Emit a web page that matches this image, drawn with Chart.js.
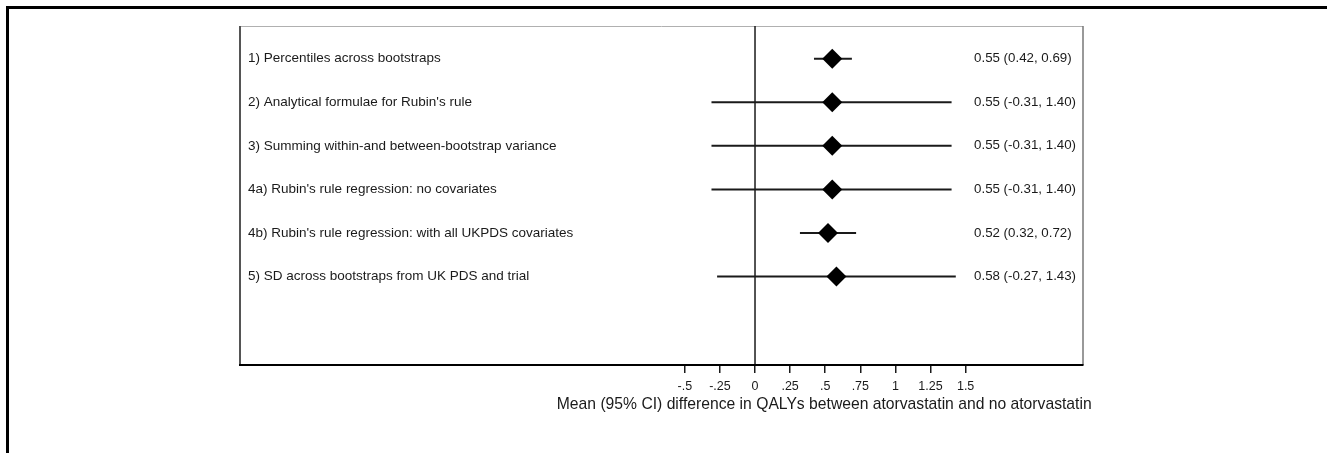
<!DOCTYPE html>
<html>
<head>
<meta charset="utf-8">
<script src="https://cdn.jsdelivr.net/npm/chart.js@4"></script>
<style>
  html, body { margin: 0; padding: 0; background: #fff; }
  canvas { display: block; }
</style>
</head>
<body>
<canvas id="chart" width="1327" height="453"></canvas>
<script>
// --- data ---
const methods = [
  "1) Percentiles across bootstraps",
  "2) Analytical formulae for Rubin's rule",
  "3) Summing within-and between-bootstrap variance",
  "4a) Rubin's rule regression: no covariates",
  "4b) Rubin's rule regression: with all UKPDS covariates",
  "5) SD across bootstraps from UK PDS and trial"
];
const estimates = [0.55, 0.55, 0.55, 0.55, 0.52, 0.58];
const lower = [0.42, -0.31, -0.31, -0.31, 0.32, -0.27];
const upper = [0.69, 1.40, 1.40, 1.40, 0.72, 1.43];
const ciText = [
  "0.55 (0.42, 0.69)",
  "0.55 (-0.31, 1.40)",
  "0.55 (-0.31, 1.40)",
  "0.55 (-0.31, 1.40)",
  "0.52 (0.32, 0.72)",
  "0.58 (-0.27, 1.43)"
];
const tickValues = [-0.5, -0.25, 0, 0.25, 0.5, 0.75, 1, 1.25, 1.5];
const tickLabels = ["-.5", "-.25", "0", ".25", ".5", ".75", "1", "1.25", "1.5"];
const axisTitle = "Mean (95% CI) difference in QALYs between atorvastatin and no atorvastatin";

const FONT = "'Liberation Sans', Arial, sans-serif";
const INK = "#1a1a1a";

// one short line per CI
const ciSets = methods.map((m, i) => ({
  type: "line",
  data: [{ x: lower[i], y: i + 1 }, { x: upper[i], y: i + 1 }],
  borderColor: INK,
  borderWidth: 2,
  pointRadius: 0,
  order: 1
}));

const diamonds = {
  type: "scatter",
  data: estimates.map((v, i) => ({ x: v, y: i + 1 })),
  pointStyle: "rectRot",
  pointRadius: 10,
  pointHoverRadius: 10,
  backgroundColor: "#000",
  borderColor: "#000",
  borderWidth: 0,
  order: 0
};

// frame, zero line, text labels
const forestDecor = {
  id: "forestDecor",
  beforeDraw(chart) {
    const { ctx, chartArea: a } = chart;
    ctx.save();
    // outer figure frame (top + left)
    ctx.fillStyle = "#000";
    ctx.fillRect(6, 6, 1327 - 6, 3);
    ctx.fillRect(6, 6, 3, 453 - 6);
    // plot box
    ctx.lineWidth = 1;
    ctx.strokeStyle = "#b0b0b0";
    ctx.beginPath(); ctx.moveTo(a.left, a.top + 0.5); ctx.lineTo(a.right, a.top + 0.5); ctx.stroke();
    ctx.strokeStyle = "#555";
    ctx.lineWidth = 2;
    ctx.beginPath(); ctx.moveTo(a.left, a.top); ctx.lineTo(a.left, a.bottom); ctx.stroke();
    ctx.strokeStyle = "#777";
    ctx.lineWidth = 1.5;
    ctx.beginPath(); ctx.moveTo(a.right, a.top); ctx.lineTo(a.right, a.bottom); ctx.stroke();
    // zero line
    const x0 = chart.scales.x.getPixelForValue(0);
    ctx.strokeStyle = INK;
    ctx.lineWidth = 1.5;
    ctx.beginPath(); ctx.moveTo(x0, a.top); ctx.lineTo(x0, a.bottom); ctx.stroke();
    ctx.restore();
  },
  afterDraw(chart) {
    const { ctx, chartArea: a, scales } = chart;
    ctx.save();
    ctx.fillStyle = INK;
    ctx.textBaseline = "middle";
    ctx.textAlign = "left";
    methods.forEach((m, i) => {
      const y = scales.y.getPixelForValue(i + 1);
      ctx.font = "13.5px " + FONT;
      ctx.fillText(m, a.left + 8, y);
      ctx.font = "13.3px " + FONT;
      ctx.fillText(ciText[i], scales.x.getPixelForValue(1.56), y);
    });
    // axis title centred on the tick range
    ctx.font = "15.7px " + FONT;
    ctx.textAlign = "center";
    const cx = (scales.x.getPixelForValue(-0.5) + scales.x.getPixelForValue(1.5)) / 2 - 1;
    ctx.fillText(axisTitle, cx, a.bottom + 40);
    ctx.restore();
  }
};

new Chart(document.getElementById("chart"), {
  data: { datasets: [diamonds, ...ciSets] },
  options: {
    responsive: false,
    animation: false,
    devicePixelRatio: 1,
    layout: { padding: { left: 240, right: 244, top: 26, bottom: 0 } },
    plugins: { legend: { display: false }, tooltip: { enabled: false } },
    scales: {
      x: {
        type: "linear",
        min: -3.668,
        max: 2.336,
        afterBuildTicks: s => { s.ticks = tickValues.map(v => ({ value: v })); },
        afterFit: s => { s.height = 88; },
        ticks: {
          autoSkip: false,
          maxRotation: 0,
          padding: 6,
          color: INK,
          font: { family: FONT, size: 12.5 },
          callback: (v, i) => tickLabels[i]
        },
        grid: { drawOnChartArea: false, drawTicks: true, tickLength: 8, color: INK, lineWidth: 1.5 },
        border: { display: true, color: "#000", width: 2 }
      },
      y: {
        type: "linear",
        display: false,
        reverse: true,
        min: 0.25,
        max: 8.03
      }
    }
  },
  plugins: [forestDecor]
});
</script>
</body>
</html>
